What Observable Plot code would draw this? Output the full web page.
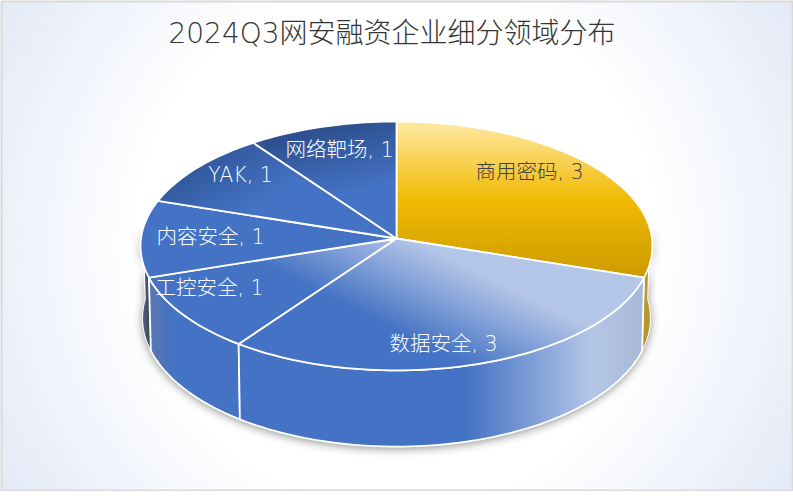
<!DOCTYPE html>
<html>
<head>
<meta charset="utf-8">
<script src="https://cdn.jsdelivr.net/npm/d3@7"></script>
<script src="https://cdn.jsdelivr.net/npm/@observablehq/plot@0.6"></script>
<style>
html,body{margin:0;padding:0;background:#fff;}
#chart svg{display:block;}
</style>
</head>
<body>
<div id="chart"></div>
<script>
const chartTitle = "2024Q3网安融资企业细分领域分布";
const categories = ["商用密码", "数据安全", "工控安全", "内容安全", "YAK", "网络靶场"];
const counts = [3, 3, 1, 1, 1, 1];

// layout of the tilted disc
const W = 793, H = 491, K = 0.06;
const topDisc = {cx: 396, cy: 238, a: 255.5, b: 124};
const baseDisc = {cx: 396, cy: 310, a: 253.5, b: 128};
const project = (disc, deg, r = 1) => {
  const t = deg * Math.PI / 180, X = r * Math.sin(t), Y = -r * Math.cos(t), d = 1 - K * Y;
  return {x: disc.cx + disc.a * X / d, y: disc.cy + disc.b * Y / d};
};
const arc = (disc, a0, a1) => {
  const n = Math.max(2, Math.ceil(Math.abs(a1 - a0) / 1.5)), out = [];
  for (let i = 0; i <= n; ++i) out.push(project(disc, a0 + (a1 - a0) * i / n));
  return out;
};
const total = d3.sum(counts);
let acc = 0;
const slices = categories.map((name, i) => {
  const a0 = acc / total * 360; acc += counts[i];
  return {name, value: counts[i], a0, a1: acc / total * 360, i};
});
const face = s => { const c = project(topDisc, 0, 0); return [c, ...arc(topDisc, s.a0, s.a1), c]; };
const wall = (a0, a1) => { const t = arc(topDisc, a0, a1), b = arc(baseDisc, a1, a0); return [...t, ...b, t[0]]; };

const faceFill = ["gFace0", "gFace1", "gFace1", "gFace3", "gFace4", "gFace5"];
// label anchors, as px in the picture
const labelAt = [[529, 172], [443, 344], [209, 288], [210, 237], [240, 175], [339, 150]];
const labelInk = ["#404040", "#fff", "#fff", "#fff", "#fff", "#fff"];
const labels = slices.map((s, i) => ({text: `${s.name}, ${s.value}`, x: labelAt[i][0], y: labelAt[i][1], ink: labelInk[i]}));

function defs() {
  const d = d3.create("svg:defs");
  const lin = (id, x1, y1, x2, y2, stops) => {
    const g = d.append("linearGradient").attr("id", id).attr("gradientUnits", "userSpaceOnUse")
      .attr("x1", x1).attr("y1", y1).attr("x2", x2).attr("y2", y2);
    stops.forEach(([o, c]) => g.append("stop").attr("offset", o).attr("stop-color", c));
  };
  lin("gFace0", 396, 121, 396, 277, [[0, "#FFE9A3"], [0.5, "#F1BA04"], [1, "#CC9B00"]]);
  lin("gFace1", 400, 333, 440, 253, [[0, "#4472C4"], [1, "#B4C6E7"]]);
  lin("gFace3", 0, 0, 0, 491, [[0, "#4472C4"], [1, "#4472C4"]]);
  lin("gFace4", 195, 140, 240, 215, [[0, "#2B5090"], [1, "#4472C4"]]);
  lin("gFace5", 300, 122, 318, 200, [[0, "#2A4A86"], [1, "#4472C4"]]);
  lin("gWall1", 466, 0, 640, 0, [[0, "#4472C4"], [0.72, "#B4C6E7"], [1, "#A9BAD8"]]);
  lin("gWall2", 150, 0, 172, 0, [[0, "#5A78B4"], [1, "#4472C4"]]);
  lin("gWall3", 141, 0, 150, 0, [[0, "#55657F"], [1, "#3A4658"]]);
  lin("gWall0", 640, 0, 652, 0, [[0, "#B8962C"], [1, "#B8962C"]]);
  const rg = d.append("radialGradient").attr("id", "gBack").attr("gradientUnits", "userSpaceOnUse")
    .attr("cx", 396).attr("cy", 245).attr("r", 470);
  [[0, "#ffffff"], [0.55, "#ffffff"], [1, "#E2E9F6"]].forEach(([o, c]) =>
    rg.append("stop").attr("offset", o).attr("stop-color", c));
  d.append("filter").attr("id", "soft").attr("x", "-10%").attr("y", "-10%").attr("width", "120%").attr("height", "125%")
    .append("feDropShadow").attr("dx", 0).attr("dy", 2).attr("stdDeviation", 5).attr("flood-color", "#000").attr("flood-opacity", 0.45);
  return d.node();
}
const withFilter = (i, s, v, d, c, next) => { const g = next(i, s, v, d, c); g.setAttribute("filter", "url(#soft)"); return g; };
const slab = (pts, fill, extra = {}) => Plot.line(pts, {x: "x", y: "y", fill, stroke: "#fff", strokeWidth: 1.8, strokeLinejoin: "round", curve: "linear", ...extra});

const frame = [{x: 1, y: 1}, {x: W - 1, y: 1}, {x: W - 1, y: H - 1}, {x: 1, y: H - 1}, {x: 1, y: 1}];
const outline = [...arc(baseDisc, 85, 275), ...arc(topDisc, 275, 85)];
const textFont = "'DejaVu Sans','Noto Sans CJK SC'";

const plot = Plot.plot({
  width: W, height: H, margin: 0,
  x: {domain: [0, W], range: [0, W], axis: null},
  y: {domain: [0, H], range: [0, H], axis: null},
  style: {background: "none", overflow: "visible"},
  marks: [
    defs,
    Plot.line(frame, {x: "x", y: "y", fill: "url(#gBack)", stroke: "#D9D9D9", strokeWidth: 2, curve: "linear"}),
    Plot.line(outline, {x: "x", y: "y", fill: "#fff", curve: "linear", render: withFilter}),
    slab(wall(85, 108), "url(#gWall0)", {strokeWidth: 1}),
    slab(wall(252, 275), "url(#gWall3)", {strokeWidth: 1}),
    slab(wall(216, 252), "url(#gWall2)"),
    slab(wall(108, 216), "url(#gWall1)"),
    ...slices.map(s => slab(face(s), `url(#${faceFill[s.i]})`)),
    Plot.text(labels, {x: "x", y: "y", text: "text", fill: "ink", fontSize: 20.5, fontFamily: textFont, fontWeight: 300}),
    Plot.text([chartTitle], {x: [391.5], y: [34], text: d => d, fill: "#333333", fontSize: 28, fontFamily: textFont, fontWeight: 300})
  ]
});
document.getElementById("chart").appendChild(plot);
</script>
</body>
</html>
